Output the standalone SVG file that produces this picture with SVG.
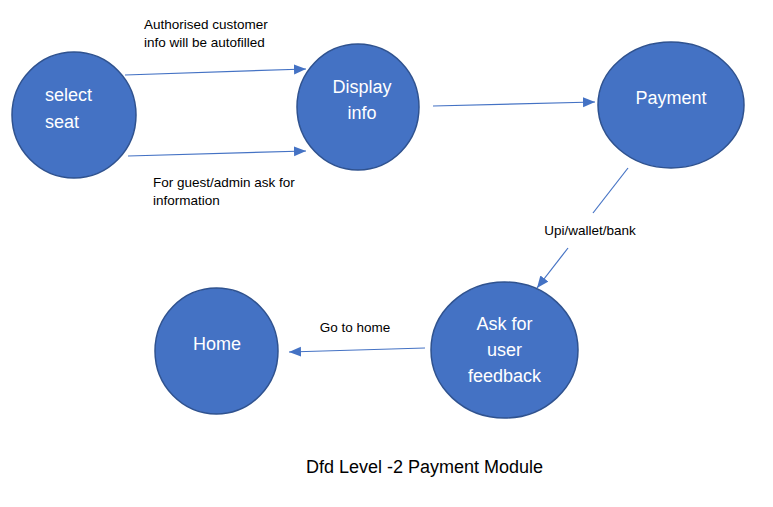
<svg xmlns="http://www.w3.org/2000/svg" width="773" height="507" viewBox="0 0 773 507">
<style>
.node{fill:#4472C4;stroke:#2F528F;stroke-width:1.5}
.nl{fill:#FFFFFF;font-family:"Liberation Sans",Arial,sans-serif;font-size:18px}
.el{fill:#000000;font-family:"Liberation Sans",Arial,sans-serif;font-size:13.5px}
.title{fill:#000000;font-family:"Liberation Sans",Arial,sans-serif;font-size:18px}
.conn{stroke:#4472C4;stroke-width:1.2;fill:none}
</style>
<defs>
<marker id="arr" markerUnits="userSpaceOnUse" markerWidth="13" markerHeight="11" refX="12" refY="5" orient="auto">
<path d="M0,0 L12,5 L0,10 z" fill="#4472C4"/>
</marker>
</defs>
<rect width="773" height="507" fill="#FFFFFF"/>
<g id="connectors">
<line class="conn" x1="125" y1="75" x2="306" y2="69" marker-end="url(#arr)"/>
<line class="conn" x1="128" y1="156" x2="306" y2="151" marker-end="url(#arr)"/>
<line class="conn" x1="433" y1="106" x2="595" y2="102" marker-end="url(#arr)"/>
<line class="conn" x1="628" y1="168" x2="593" y2="213"/>
<line class="conn" x1="568" y1="248" x2="537" y2="288" marker-end="url(#arr)"/>
<line class="conn" x1="425" y1="348" x2="289" y2="352" marker-end="url(#arr)"/>
<text class="el" x="144" y="29">Authorised customer</text>
<text class="el" x="144" y="47">info will be autofilled</text>
<text class="el" x="153" y="187">For guest/admin ask for</text>
<text class="el" x="153" y="205">information</text>
<text class="el" x="590" y="235" text-anchor="middle">Upi/wallet/bank</text>
<text class="el" x="355" y="332" text-anchor="middle">Go to home</text>
</g>
<g id="node-select-seat">
<ellipse class="node" cx="74" cy="115" rx="62" ry="63"/>
<text class="nl" x="45" y="101">select</text>
<text class="nl" x="45" y="128">seat</text>
</g>
<g id="node-display-info">
<ellipse class="node" cx="358" cy="107" rx="61" ry="63"/>
<text class="nl" x="362" y="93" text-anchor="middle">Display</text>
<text class="nl" x="362" y="119" text-anchor="middle">info</text>
</g>
<g id="node-payment">
<ellipse class="node" cx="671" cy="105" rx="73" ry="63"/>
<text class="nl" x="671" y="104" text-anchor="middle">Payment</text>
</g>
<g id="node-feedback">
<ellipse class="node" cx="504.5" cy="350" rx="73.5" ry="68"/>
<text class="nl" x="504.5" y="330" text-anchor="middle">Ask for</text>
<text class="nl" x="504.5" y="356" text-anchor="middle">user</text>
<text class="nl" x="504.5" y="382" text-anchor="middle">feedback</text>
</g>
<g id="node-home">
<ellipse class="node" cx="216.5" cy="351" rx="61.5" ry="63"/>
<text class="nl" x="217" y="350" text-anchor="middle">Home</text>
</g>
<text class="title" x="306" y="473">Dfd Level -2 Payment Module</text>
</svg>
